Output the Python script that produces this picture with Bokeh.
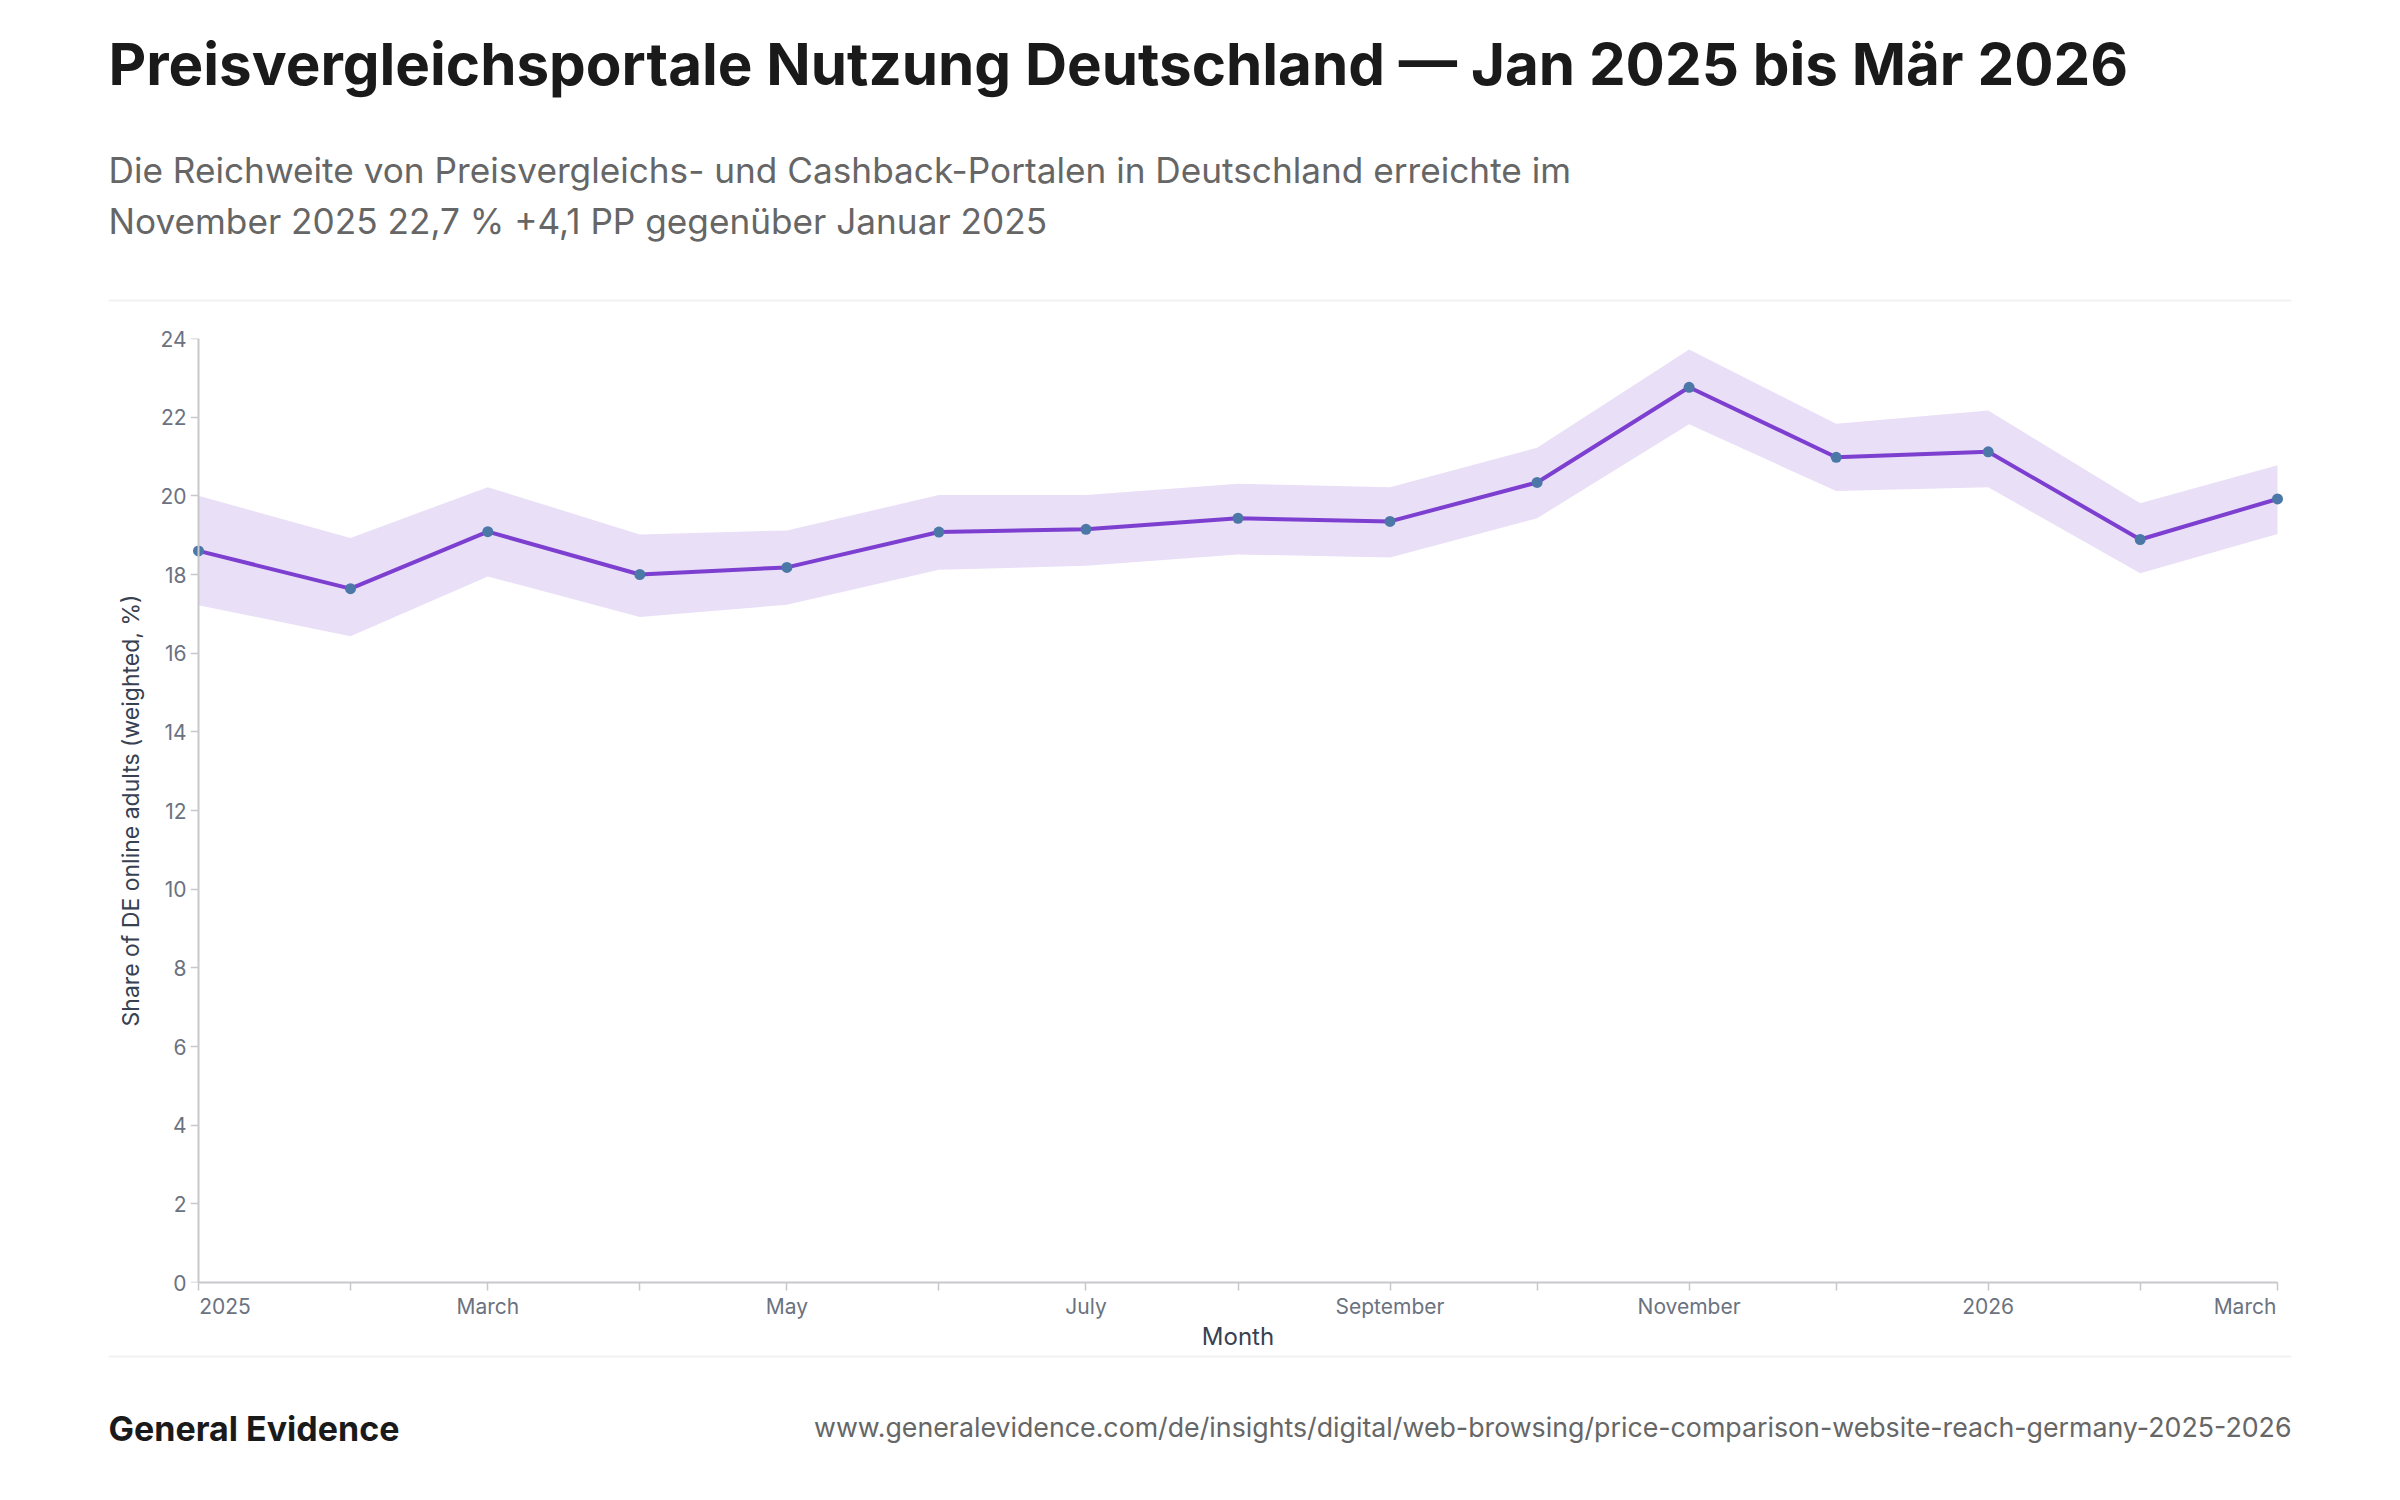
from bokeh.embed import file_html
from bokeh.layouts import column
from bokeh.models import BoxAnnotation, ColumnDataSource, FixedTicker, Label, LinearAxis, Range1d
from bokeh.plotting import figure
from bokeh.resources import INLINE
import pandas as pd

title_text = "Preisvergleichsportale Nutzung Deutschland — Jan 2025 bis Mär 2026"
subtitle_lines = [
    "Die Reichweite von Preisvergleichs- und Cashback-Portalen in Deutschland erreichte im",
    "November 2025 22,7 % +4,1 PP gegenüber Januar 2025",
]
brand = "General Evidence"
source_url = "www.generalevidence.com/de/insights/digital/web-browsing/price-comparison-website-reach-germany-2025-2026"
x_title = "Month"
y_title = "Share of DE online adults (weighted, %)"

months = ["2025-01-01", "2025-02-01", "2025-03-01", "2025-04-01", "2025-05-01",
          "2025-06-01", "2025-07-01", "2025-08-01", "2025-09-01", "2025-10-01",
          "2025-11-01", "2025-12-01", "2026-01-01", "2026-02-01", "2026-03-01"]
reach = [18.60, 17.64, 19.09, 18.00, 18.18, 19.08, 19.15, 19.43, 19.35, 20.34,
         22.76, 20.98, 21.12, 18.89, 19.92]
upper = [20.00, 18.93, 20.22, 19.02, 19.12, 20.02, 20.02, 20.31, 20.22, 21.22,
         23.72, 21.83, 22.17, 19.81, 20.78]
lower = [17.22, 16.43, 17.95, 16.92, 17.23, 18.12, 18.22, 18.51, 18.43, 19.43,
         21.82, 20.12, 20.22, 18.03, 19.03]
x_tick_labels = ["2025", "", "March", "", "May", "", "July", "", "September", "",
                 "November", "", "2026", "", "March"]
y_ticks = list(range(0, 25, 2))

FONT = "Inter"
INK = "#1a1a1a"
GREY = "#666666"
TICK = "#6b7280"
AXIS_TITLE = "#374151"
AXIS = "#c8c8cc"
RULE = "#f1f1f2"
W = 2384
HEAD_H, CHART_H, FOOT_H = 320, 1033, 131
PLOT_W = 2079
PAD = 8  # frame overhang so the end markers are not clipped
NBSP = "\u00a0"

x_ms = [int(pd.Timestamp(m).timestamp() * 1000) for m in months]
src = ColumnDataSource(dict(x=x_ms, y=reach, upper=upper, lower=lower))
x_pad = PAD * (x_ms[-1] - x_ms[0]) / PLOT_W


def panel(h):
    f = figure(width=W, height=h, output_backend="svg", toolbar_location=None,
               x_range=Range1d(0, W), y_range=Range1d(h, 0), x_axis_type=None, y_axis_type=None,
               min_border=0, frame_align=False)
    f.outline_line_color = None
    f.grid.visible = False
    return f


def text(f, t, x, y, size, color, style="normal", align="left"):
    f.add_layout(Label(x=x, y=y, text=t, text_font=FONT, text_font_size=size, text_color=color,
                       text_font_style=style, text_align=align, text_baseline="alphabetic"))


def rule(f, y):
    f.add_layout(BoxAnnotation(left=108, right=2291, top=y, bottom=y + 2,
                               fill_color=RULE, fill_alpha=1, line_color=None))


head = panel(HEAD_H)
text(head, title_text, 108, 63, "58.3px", INK, "bold")
text(head, subtitle_lines[0], 108, 169, "35.2px", GREY)
text(head, subtitle_lines[1], 108, 220, "35.2px", GREY)
rule(head, 299)

p = figure(width=W, height=CHART_H, output_backend="svg", toolbar_location=None,
           x_range=Range1d(x_ms[0] - x_pad, x_ms[-1] + x_pad), y_range=Range1d(0, 24), frame_align=False,
           min_border_left=198 - PAD, min_border_right=107 - PAD, min_border_top=18, min_border_bottom=70)
p.outline_line_color = None
p.grid.visible = False
p.background_fill_color = "white"

p.varea(x="x", y1="lower", y2="upper", source=src, fill_color="#e9dff7")
p.line(x="x", y="y", source=src, line_color="#7c3fd0", line_width=4)
p.scatter(x="x", y="y", source=src, size=11, fill_color="#4c78a8", line_color=None)

overrides = {x: lab for x, lab in zip(x_ms, x_tick_labels)}
# first and last labels sit inside the axis extent, as in the reference
overrides[x_ms[0]] = NBSP * 9 + x_tick_labels[0]
overrides[x_ms[-1]] = x_tick_labels[-1] + NBSP * 11
ax = p.xaxis[0]
ax.ticker = FixedTicker(ticks=x_ms)
ax.major_label_overrides = overrides
ax.axis_label = x_title
ax.bounds = (x_ms[0], x_ms[-1])
ax.axis_line_color = AXIS
ax.axis_line_width = 2
ax.major_tick_line_color = AXIS
ax.major_tick_line_width = 1.5
ax.major_tick_in = 0
ax.major_tick_out = 8
ax.minor_tick_line_color = None
ax.major_label_text_font = FONT
ax.major_label_text_font_size = "21px"
ax.major_label_text_color = TICK
ax.major_label_standoff = 3
ax.axis_label_text_font = FONT
ax.axis_label_text_font_style = "normal"
ax.axis_label_text_color = AXIS_TITLE
ax.axis_label_standoff = 0
ax.axis_label_text_font_size = "24px"

# y labels and title sit on the frame edge; the rule and ticks are a second axis at the first month
ay = p.yaxis[0]
ay.ticker = FixedTicker(ticks=y_ticks)
ay.axis_label = y_title
ay.axis_line_color = None
ay.major_tick_line_color = None
ay.minor_tick_line_color = None
ay.major_tick_in = 0
ay.major_tick_out = 0
ay.major_label_text_font = FONT
ay.major_label_text_font_size = "21px"
ay.major_label_text_color = TICK
ay.major_label_standoff = 4
ay.axis_label_text_font = FONT
ay.axis_label_text_font_style = "normal"
ay.axis_label_text_color = AXIS_TITLE
ay.axis_label_standoff = 12
ay.axis_label_text_font_size = "23px"

y_rule = LinearAxis(ticker=FixedTicker(ticks=y_ticks), fixed_location=x_ms[0],
                    axis_line_color=AXIS, axis_line_width=2,
                    major_tick_line_color=AXIS, major_tick_line_width=1.5,
                    major_tick_in=0, major_tick_out=8, minor_tick_line_color=None,
                    major_label_text_color=None)
p.add_layout(y_rule, "left")

foot = panel(FOOT_H)
rule(foot, 2)
text(foot, brand, 108, 74.5, "34px", INK, "bold")
text(foot, source_url, 2291, 73.7, "26.75px", GREY, align="right")

page = column(head, p, foot, spacing=0)
open("out.html", "w").write(file_html(page, INLINE))
